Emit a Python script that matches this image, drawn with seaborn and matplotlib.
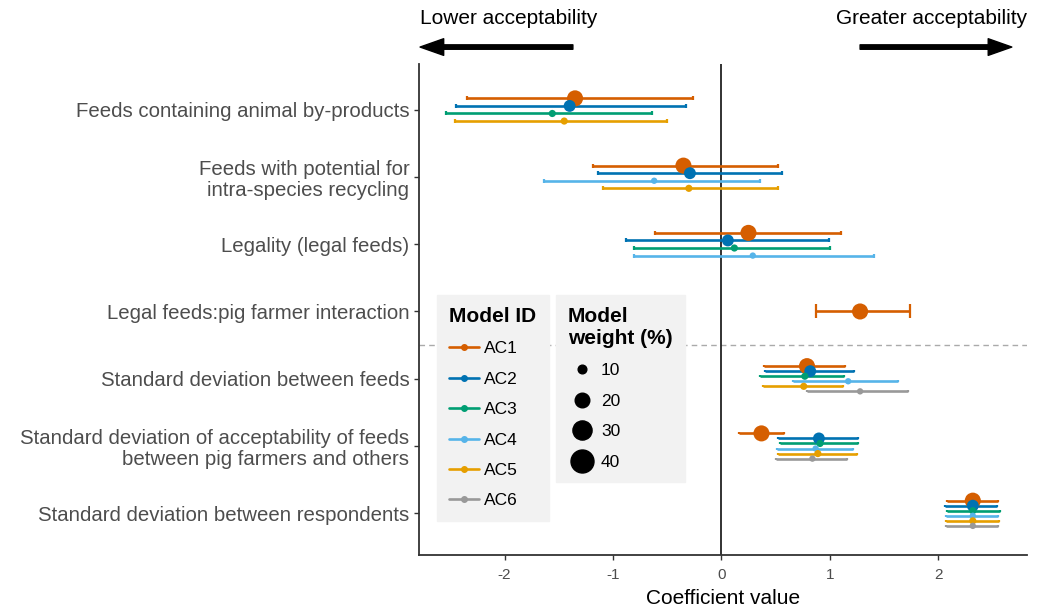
import numpy as np
import pandas as pd
import matplotlib.pyplot as plt
import seaborn as sns
from matplotlib.lines import Line2D

# rows of the chart, top to bottom
terms = [
    "Feeds containing animal by-products",
    "Feeds with potential for\nintra-species recycling",
    "Legality (legal feeds)",
    "Legal feeds:pig farmer interaction",
    "Standard deviation between feeds",
    "Standard deviation of acceptability of feeds\nbetween pig farmers and others",
    "Standard deviation between respondents",
]
models = ["AC1", "AC2", "AC3", "AC4", "AC5", "AC6"]
model_colors = ["#D55E00", "#0072B2", "#009E73", "#56B4E9", "#E69F00", "#999999"]
model_weights = [23, 15, 8, 7, 8, 7]
legend_weights = [10, 20, 30, 40]

# one entry per interval
term_idx = [0, 0, 0, 0,
            1, 1, 1, 1,
            2, 2, 2, 2,
            3,
            4, 4, 4, 4, 4, 4,
            5, 5, 5, 5, 5, 5,
            6, 6, 6, 6, 6, 6]
model_id = ["AC1", "AC2", "AC3", "AC5",
            "AC1", "AC2", "AC4", "AC5",
            "AC1", "AC2", "AC3", "AC4",
            "AC1",
            "AC1", "AC2", "AC3", "AC4", "AC5", "AC6",
            "AC1", "AC2", "AC3", "AC4", "AC5", "AC6",
            "AC1", "AC2", "AC3", "AC4", "AC5", "AC6"]
estimate = [-1.35, -1.40, -1.56, -1.45,
            -0.35, -0.29, -0.62, -0.30,
            0.25, 0.06, 0.12, 0.29,
            1.28,
            0.79, 0.82, 0.77, 1.17, 0.76, 1.28,
            0.37, 0.90, 0.91, 0.87, 0.89, 0.84,
            2.32, 2.32, 2.32, 2.32, 2.32, 2.32]
lower = [-2.35, -2.45, -2.54, -2.46,
         -1.18, -1.14, -1.64, -1.09,
         -0.61, -0.88, -0.81, -0.81,
         0.87,
         0.39, 0.40, 0.36, 0.66, 0.38, 0.79,
         0.16, 0.52, 0.54, 0.51, 0.52, 0.50,
         2.08, 2.06, 2.08, 2.07, 2.07, 2.07]
upper = [-0.26, -0.33, -0.64, -0.50,
         0.52, 0.56, 0.36, 0.52,
         1.10, 0.99, 1.00, 1.41,
         1.74,
         1.14, 1.22, 1.13, 1.63, 1.12, 1.72,
         0.58, 1.26, 1.26, 1.21, 1.25, 1.16,
         2.55, 2.54, 2.57, 2.55, 2.56, 2.55]

palette = dict(zip(models, model_colors))
weight_of = dict(zip(models, model_weights))


def marker_diam(w):
    # diameter in points for a model weight (sqrt scale like ggplot)
    return max(-5.6 + 4.52 * np.sqrt(w), 2) * 0.72


df = pd.DataFrame({"term": term_idx, "model": model_id, "estimate": estimate,
                   "lower": lower, "upper": upper})
df["weight"] = df["model"].map(weight_of)
df["n"] = df.groupby("term")["model"].transform("count")
df["rank"] = df.groupby("term").cumcount()
dodge = 0.45
df["y"] = df["term"] + (df["rank"] - (df["n"] - 1) / 2) * dodge / df["n"]

sns.set_theme(style="white")
plt.rcParams["font.family"] = ["Liberation Sans", "DejaVu Sans"]

fig = plt.figure(figsize=(10.42, 6.11), dpi=100)
ax = fig.add_axes([0.4021, 0.0917, 0.5835, 0.8036])

ax.axhline(3.5, color="#AAAAAA", lw=1, ls=(0, (4, 3)), zorder=1)
ax.axvline(0, color="#222222", lw=1.3, zorder=1)

for _, r in df.iterrows():
    ax.errorbar(r["estimate"], r["y"],
                xerr=[[r["estimate"] - r["lower"]], [r["upper"] - r["estimate"]]],
                fmt="none", ecolor=palette[r["model"]], elinewidth=1.9,
                capsize=4.7 / r["n"], capthick=1.6, zorder=2)

sizes = {w: marker_diam(w) ** 2 for w in sorted(set(model_weights))}
sns.scatterplot(data=df, x="estimate", y="y", hue="model", palette=palette,
                size="weight", sizes=sizes, linewidth=0, legend=False,
                ax=ax, zorder=3)

ax.set_xlim(-2.79, 2.82)
ax.set_ylim(6.62, -0.68)
ax.set_yticks(range(len(terms)))
ax.set_yticklabels(terms, fontsize=14.7, color="#4D4D4D", linespacing=1.15)
ax.set_xticks([-2, -1, 0, 1, 2])
ax.set_xticklabels(["-2", "-1", "0", "1", "2"], fontsize=11, color="#4D4D4D")
ax.set_xlabel("Coefficient value", fontsize=15, color="black", labelpad=5)
ax.set_ylabel("")
ax.tick_params(axis="both", length=3.5, width=1, color="#333333", left=True, bottom=True)
ax.tick_params(axis="x", pad=6)
for s in ["top", "right"]:
    ax.spines[s].set_visible(False)
for s in ["left", "bottom"]:
    ax.spines[s].set_color("#333333")
    ax.spines[s].set_linewidth(1.3)

# legends
common = dict(loc="upper left", fontsize=12.5, labelcolor="black",
              title_fontproperties={"weight": "bold", "size": 15},
              facecolor="#F2F2F2", edgecolor="#F2F2F2", framealpha=1,
              fancybox=False, labelspacing=0.88, handletextpad=0.3,
              borderpad=0.7, borderaxespad=0, alignment="left")
id_handles = [Line2D([], [], color=c, lw=1.9, marker="o", markersize=4) for c in model_colors]
leg1 = ax.legend(id_handles, models, title="Model ID",
                 bbox_to_anchor=(0.03, 0.53), handlelength=1.7, **common)
leg1.get_title().set_color("black")
ax.add_artist(leg1)
wt_handles = [Line2D([], [], ls="none", marker="o", color="black",
                     markersize=marker_diam(w)) for w in legend_weights]
leg2 = ax.legend(wt_handles, [str(w) for w in legend_weights],
                 title="Model\nweight (%)", bbox_to_anchor=(0.225, 0.53),
                 handlelength=1.6, **common)
leg2.get_title().set_color("black")
leg2.get_title().set_linespacing(1.2)

# direction arrows above the plot
arrow = dict(arrowstyle="simple,head_length=0.85,head_width=0.6,tail_width=0.16",
             color="black", mutation_scale=20, shrinkA=0, shrinkB=0)
ax.annotate("", xy=(-2.78, 0.923), xytext=(-1.37, 0.923),
            xycoords=("data", "figure fraction"), arrowprops=arrow)
ax.annotate("", xy=(2.68, 0.923), xytext=(1.28, 0.923),
            xycoords=("data", "figure fraction"), arrowprops=arrow)
ax.annotate("Lower acceptability", xy=(-2.78, 0.97), xycoords=("data", "figure fraction"),
            ha="left", va="center", fontsize=15, color="black")
ax.annotate("Greater acceptability", xy=(2.82, 0.97), xycoords=("data", "figure fraction"),
            ha="right", va="center", fontsize=15, color="black")

fig.savefig("out.png", dpi=100)
